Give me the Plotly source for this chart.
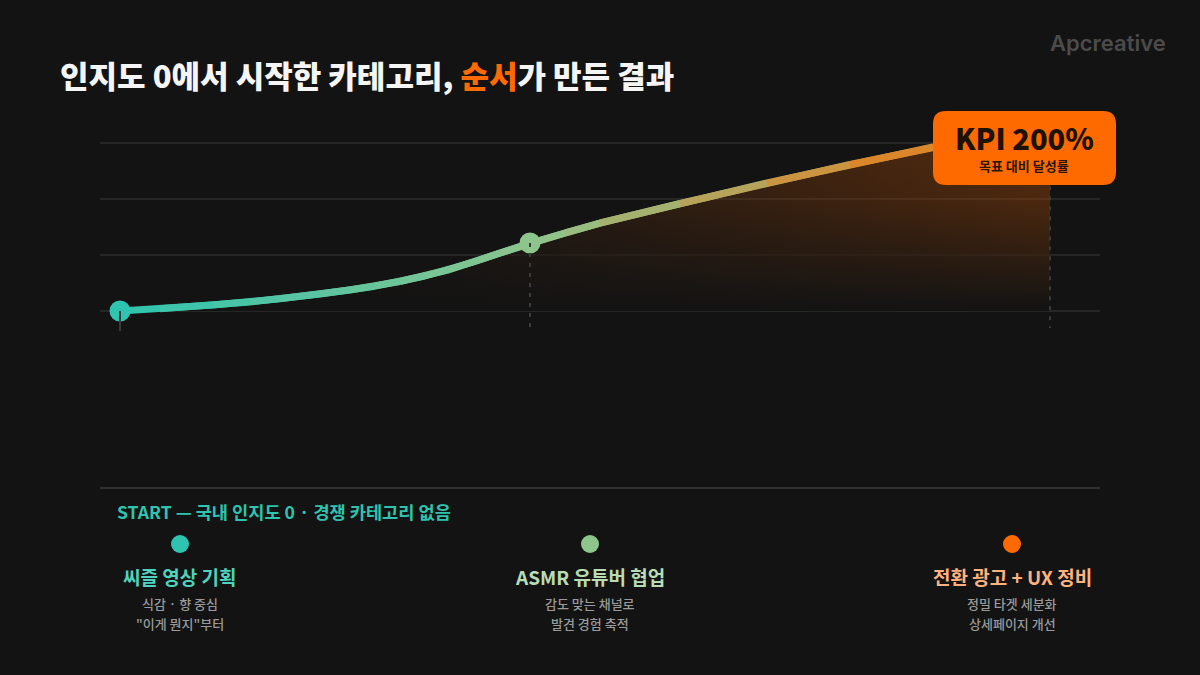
import plotly.graph_objects as go

# ---------------- data ----------------
stage_titles = ["씨즐 영상 기획", "ASMR 유튜버 협업", "전환 광고 + UX 정비"]
stage_note1 = ["식감 · 향 중심", "감도 맞는 채널로", "정밀 타겟 세분화"]
stage_note2 = ["\"이게 뭔지\"부터", "발견 경험 축적", "상세페이지 개선"]
stage_x = [2, 43, 95]          # position along the timeline (0-100)
stage_y = [0.0, 1.214, 3.30]   # awareness level (grid units)

curve_x = [2, 6, 11.3, 15, 18, 22, 25, 27.5, 30, 32.5, 35, 37.5, 40, 43,
           46.5, 50, 58, 66.7, 75, 83.3, 89, 95]
curve_y = [0.0, 0.041, 0.107, 0.161, 0.218, 0.304, 0.375, 0.443, 0.527, 0.625, 0.741, 0.884, 1.036, 1.214,
           1.393, 1.571, 1.920, 2.286, 2.616, 2.929, 3.125, 3.30]

grid_vals = [0, 1, 2, 3]

title_main = "인지도 0에서 시작한 카테고리, "
title_hl = "순서"
title_tail = "가 만든 결과"
kpi_value = "KPI 200%"
kpi_label = "목표 대비 달성률"
start_note = "START — 국내 인지도 0 · 경쟁 카테고리 없음"
brand = "Apcreative"

# ---------------- style ----------------
BG = "#131313"
FONT = "Noto Sans CJK KR"
stage_colors = ["#2ec4b0", "#8dc58d", "#ff6a00"]
title_colors = ["#4fd3bf", "#b9dcb4", "#ffb27d"]
ORANGE = "#ff6a00"

W, H = 1200, 675
L, R, T, B = 100, 1100, 100, 400  # plot area in px
y0_px, unit_px = 311, 56
yr = [-(B - y0_px) / unit_px, (y0_px - T) / unit_px]


def PX(x):
    return (x - L) / (R - L)


def PY(y):
    return (B - y) / (B - T)


def hex2rgb(h):
    h = h.lstrip("#")
    return tuple(int(h[i:i + 2], 16) for i in (0, 2, 4))


def mix(c1, c2, t):
    a, b = hex2rgb(c1), hex2rgb(c2)
    return "rgb(%d,%d,%d)" % tuple(round(a[i] + (b[i] - a[i]) * t) for i in range(3))


def color_at(x):
    if x <= stage_x[1]:
        t = (x - stage_x[0]) / (stage_x[1] - stage_x[0])
        return mix(stage_colors[0], stage_colors[1], max(0, min(1, t)))
    t = (x - stage_x[1]) / (stage_x[2] - stage_x[1])
    return mix(stage_colors[1], stage_colors[2], max(0, min(1, t)))


fig = go.Figure()

# area fill (horizontal orange gradient)
fig.add_trace(go.Scatter(
    x=curve_x, y=curve_y, mode="lines", fill="tozeroy",
    line=dict(width=0, color="rgba(0,0,0,0)"),
    fillgradient=dict(type="horizontal",
                      colorscale=[[0, "rgba(255,106,0,0)"], [0.3, "rgba(255,106,0,0.04)"],
                                  [1, "rgba(255,106,0,0.30)"]]),
    hoverinfo="skip", showlegend=False))
# vertical fade overlay
fig.add_trace(go.Scatter(
    x=curve_x, y=curve_y, mode="lines", fill="tozeroy",
    line=dict(width=0, color="rgba(0,0,0,0)"),
    fillgradient=dict(type="vertical",
                      colorscale=[[0, "rgba(19,19,19,1)"], [0.15, "rgba(19,19,19,0.8)"],
                                  [0.6, "rgba(19,19,19,0.2)"], [1, "rgba(19,19,19,0)"]]),
    hoverinfo="skip", showlegend=False))

# gradient line as coloured, overlapping segments
n = len(curve_x)
for i in range(n - 1):
    j = min(i + 3, n)
    xm = (curve_x[i] + curve_x[i + 1]) / 2
    fig.add_trace(go.Scatter(
        x=curve_x[i:j], y=curve_y[i:j], mode="lines",
        line=dict(color=color_at(xm), width=7),
        hoverinfo="skip", showlegend=False))

# milestone markers (start + middle)
fig.add_trace(go.Scatter(
    x=stage_x[:2], y=stage_y[:2], mode="markers",
    marker=dict(size=21, color=stage_colors[:2], line=dict(width=0)),
    hoverinfo="skip", showlegend=False))

shapes = []
# start tick (solid), milestone drops (dashed)
shapes.append(dict(type="line", xref="x", yref="y", x0=stage_x[0], x1=stage_x[0],
                   y0=stage_y[0], y1=stage_y[0] - 20 / unit_px,
                   line=dict(color="#3a3a3a", width=2), layer="above"))
for k in (1, 2):
    shapes.append(dict(type="line", xref="x", yref="y", x0=stage_x[k], x1=stage_x[k],
                       y0=stage_y[k], y1=-17 / unit_px,
                       line=dict(color="#3a3a3a", width=2, dash="4px,6px"), layer="above"))

# KPI box (rounded)
bx0, bx1, by0, by1, r = 933, 1116, 111, 185, 13
pts = [("M", bx0 + r, by0), ("L", bx1 - r, by0), ("Q", bx1, by0, bx1, by0 + r),
       ("L", bx1, by1 - r), ("Q", bx1, by1, bx1 - r, by1), ("L", bx0 + r, by1),
       ("Q", bx0, by1, bx0, by1 - r), ("L", bx0, by0 + r), ("Q", bx0, by0, bx0 + r, by0)]
path = ""
for p in pts:
    cmd = p[0]
    coords = p[1:]
    s = []
    for q in range(0, len(coords), 2):
        s.append("%.5f,%.5f" % (PX(coords[q]), PY(coords[q + 1])))
    path += cmd + " " + " ".join(s) + " "
path += "Z"
shapes.append(dict(type="path", xref="paper", yref="paper", path=path,
                   fillcolor=ORANGE, line=dict(width=0), layer="above"))

# bottom divider
shapes.append(dict(type="line", xref="paper", yref="paper", x0=PX(100), x1=PX(1100),
                   y0=PY(488), y1=PY(488), line=dict(color="#303030", width=2)))

# bottom dots
dot_px = [180, 590, 1012]
for k in range(3):
    rr = 9
    shapes.append(dict(type="circle", xref="paper", yref="paper",
                       x0=PX(dot_px[k] - rr), x1=PX(dot_px[k] + rr),
                       y0=PY(544 + rr), y1=PY(544 - rr),
                       fillcolor=stage_colors[k], line=dict(width=0)))

ann = []
ann.append(dict(xref="paper", yref="paper", x=PX(58), y=PY(74), xanchor="left", yanchor="middle",
                text=title_main + "<span style='color:%s'>%s</span>" % (ORANGE, title_hl) + title_tail,
                showarrow=False, font=dict(family=FONT, size=31, color="#f5f5f5", weight=800)))
ann.append(dict(xref="paper", yref="paper", x=PX(1168), y=PY(43), xanchor="right", yanchor="middle",
                text=brand, showarrow=False,
                font=dict(family="Inter", size=22, color="#4b4b4b", weight=600)))
ann.append(dict(xref="paper", yref="paper", x=PX(1024), y=PY(137), xanchor="center", yanchor="middle",
                text=kpi_value, showarrow=False,
                font=dict(family=FONT, size=29, color="#1e1206", weight=800)))
ann.append(dict(xref="paper", yref="paper", x=PX(1024), y=PY(165), xanchor="center", yanchor="middle",
                text=kpi_label, showarrow=False,
                font=dict(family=FONT, size=13, color="#2a1606", weight=700)))
ann.append(dict(xref="paper", yref="paper", x=PX(115), y=PY(511), xanchor="left", yanchor="middle",
                text=start_note, showarrow=False,
                font=dict(family=FONT, size=17.6, color=stage_colors[0], weight=700)))
for k in range(3):
    ann.append(dict(xref="paper", yref="paper", x=PX(dot_px[k]), y=PY(576), xanchor="center",
                    yanchor="middle", text=stage_titles[k], showarrow=False,
                    font=dict(family=FONT, size=19, color=title_colors[k], weight=700)))
    ann.append(dict(xref="paper", yref="paper", x=PX(dot_px[k]), y=PY(603), xanchor="center",
                    yanchor="middle", text=stage_note1[k], showarrow=False,
                    font=dict(family=FONT, size=13, color="#9a9a9a", weight=500)))
    ann.append(dict(xref="paper", yref="paper", x=PX(dot_px[k]), y=PY(623), xanchor="center",
                    yanchor="middle", text=stage_note2[k], showarrow=False,
                    font=dict(family=FONT, size=13, color="#9a9a9a", weight=500)))

fig.update_layout(
    width=W, height=H,
    margin=dict(l=L, r=W - R, t=T, b=H - B),
    paper_bgcolor=BG, plot_bgcolor=BG,
    showlegend=False,
    xaxis=dict(range=[0, 100], visible=False, fixedrange=True),
    yaxis=dict(range=yr, tickvals=grid_vals, showticklabels=False, ticks="",
               showgrid=True, gridcolor="#262626", gridwidth=2, zeroline=False,
               showline=False, fixedrange=True),
    shapes=shapes, annotations=ann,
    font=dict(family=FONT),
)

fig.write_html("out.html", config={"displayModeBar": False},
               post_script="document.body.style.margin='0';document.body.style.background='#131313';")
